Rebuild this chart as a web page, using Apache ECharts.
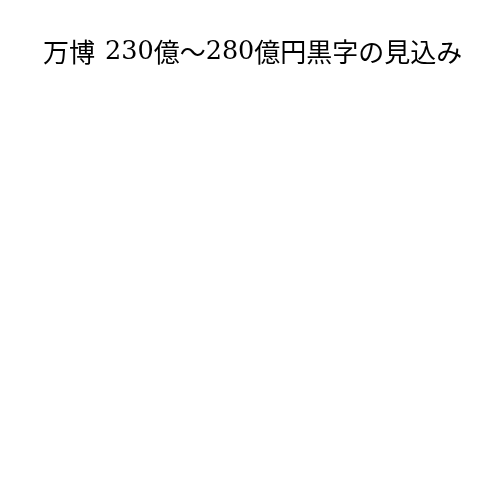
<!DOCTYPE html>
<html>
<head>
<meta charset="utf-8">
<script src="https://cdn.jsdelivr.net/npm/echarts@6/dist/echarts.min.js"></script>
<style>
  html, body { margin: 0; padding: 0; background: #fff; }
  #main { width: 500px; height: 500px; }
</style>
</head>
<body>
<div id="main"></div>
<script>
// the reference shows only the title, no marks
var titleParts = [
    ['c', '万博'],
    ['s', ' '],
    ['d', '230'],
    ['c', '億～'],
    ['d', '280'],
    ['c', '億円黒字の見込み']
];
var categories = [];
var values = [];

var titleText = titleParts.map(function (p) {
    return '{' + p[0] + '|' + p[1] + '}';
}).join('');

var myChart = echarts.init(document.getElementById('main'));
var option = {
    backgroundColor: '#ffffff',
    animation: false,
    title: {
        text: titleText,
        left: 38,
        top: 34,
        textStyle: {
            fontWeight: 'normal',
            color: '#000',
            rich: {
                c: {
                    fontFamily: '"Noto Sans CJK JP", serif',
                    fontSize: 26,
                    color: '#000'
                },
                s: {
                    fontFamily: '"Noto Sans CJK JP", serif',
                    fontSize: 26,
                    width: 10
                },
                d: {
                    fontFamily: '"DejaVu Serif", serif',
                    fontSize: 25.5,
                    color: '#000'
                }
            }
        }
    },
    series: []
};
myChart.setOption(option);
</script>
</body>
</html>
